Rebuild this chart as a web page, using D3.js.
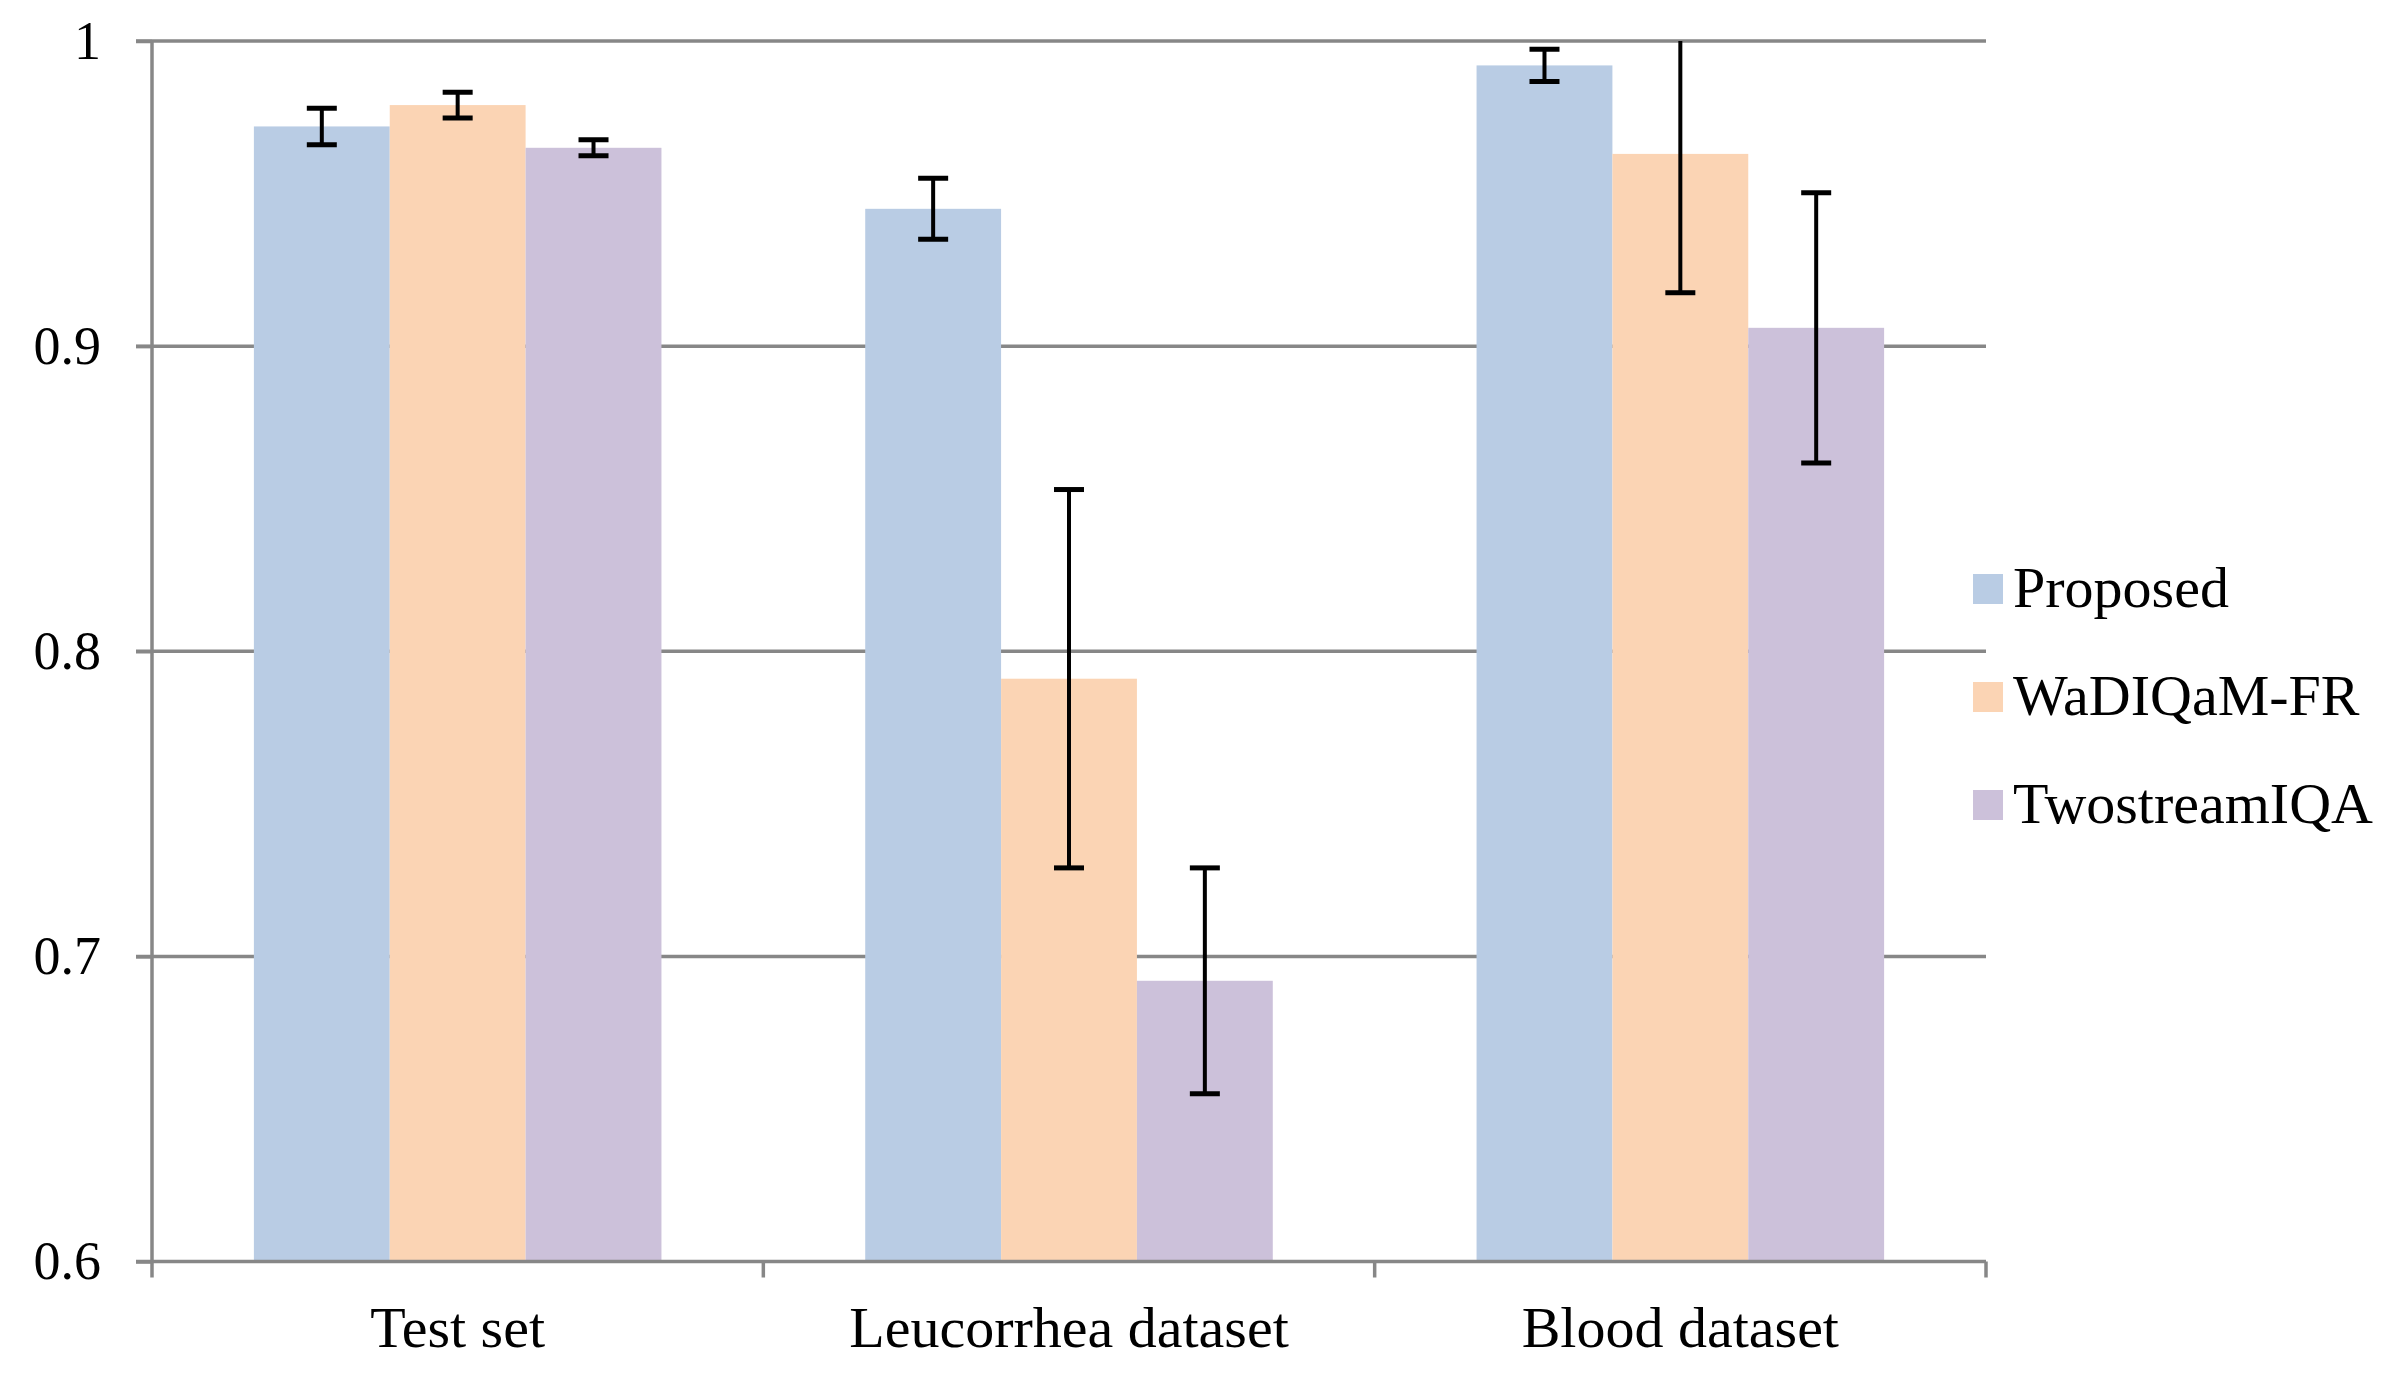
<!DOCTYPE html>
<html>
<head>
<meta charset="utf-8">
<script src="https://cdn.jsdelivr.net/npm/d3@7"></script>
<style>
  html, body { margin: 0; padding: 0; background: #fff; }
  text { font-family: "Liberation Serif", "Times New Roman", serif; fill: #000; }
</style>
</head>
<body>
<svg id="chart" width="2386" height="1385"></svg>
<script>
const categories = ["Test set", "Leucorrhea dataset", "Blood dataset"];
const series = ["Proposed", "WaDIQaM-FR", "TwostreamIQA"];
const colors = ["#b9cce4", "#fbd4b4", "#ccc1da"];

// mean value per category, one array per series
const proposed = [0.972, 0.945, 0.992];
const wadiqam = [0.979, 0.791, 0.963];
const twostream = [0.965, 0.692, 0.906];

// error bar half-widths
const proposedErr = [0.006, 0.010, 0.0053];
const wadiqamErr = [0.0042, 0.062, 0.0455];
const twostreamErr = [0.0026, 0.037, 0.0443];

const yTicks = [0.6, 0.7, 0.8, 0.9, 1.0];

const svg = d3.select("#chart");
const plotLeft = 152, plotRight = 1986, plotTop = 41, plotBottom = 1261.5;
const tickFont = 54, labelFont = 58;
const gridColor = "#878787";

const x = d3.scaleBand().domain(categories).range([plotLeft, plotRight]);
const barW = x.bandwidth() / 4.5;
const xSub = d3.scaleBand().domain(series).range([barW * 0.75, x.bandwidth() - barW * 0.75]);
const y = d3.scaleLinear().domain([0.6, 1]).range([plotBottom, plotTop]);

const values = [proposed, wadiqam, twostream];
const errors = [proposedErr, wadiqamErr, twostreamErr];
const rows = [];
series.forEach((s, si) => {
  categories.forEach((c, ci) => {
    rows.push({ cat: c, series: s, color: colors[si], value: values[si][ci], err: errors[si][ci] });
  });
});

// gridlines
svg.append("g")
  .selectAll("line")
  .data(yTicks.slice(1))
  .join("line")
  .attr("x1", plotLeft - 16)
  .attr("x2", plotRight)
  .attr("y1", d => y(d))
  .attr("y2", d => y(d))
  .attr("stroke", gridColor)
  .attr("stroke-width", 3.5);

// bars
svg.append("g")
  .selectAll("rect")
  .data(rows)
  .join("rect")
  .attr("x", d => x(d.cat) + xSub(d.series))
  .attr("width", xSub.bandwidth())
  .attr("y", d => y(d.value))
  .attr("height", d => plotBottom - y(d.value))
  .attr("fill", d => d.color);

// error bars, clipped to the plot area
svg.append("clipPath").attr("id", "plotClip")
  .append("rect")
  .attr("x", plotLeft).attr("y", plotTop)
  .attr("width", plotRight - plotLeft).attr("height", plotBottom - plotTop);

const capW = 30;
const errG = svg.append("g").attr("clip-path", "url(#plotClip)");
errG.selectAll("g")
  .data(rows)
  .join("g")
  .each(function (d) {
    const g = d3.select(this);
    const cx = x(d.cat) + xSub(d.series) + xSub.bandwidth() / 2;
    const y1 = y(d.value + d.err), y2 = y(d.value - d.err);
    g.append("line")
      .attr("x1", cx).attr("x2", cx)
      .attr("y1", y1).attr("y2", y2)
      .attr("stroke", "#000").attr("stroke-width", 4);
    [y1, y2].forEach(yy => {
      g.append("line")
        .attr("x1", cx - capW / 2).attr("x2", cx + capW / 2)
        .attr("y1", yy).attr("y2", yy)
        .attr("stroke", "#000").attr("stroke-width", 5);
    });
  });

// axes
const yAxis = svg.append("g")
  .attr("transform", `translate(${plotLeft},0)`)
  .call(d3.axisLeft(y).tickValues(yTicks).tickSize(16).tickPadding(35)
    .tickFormat(d => d === 1 ? "1" : d.toFixed(1)));
yAxis.select(".domain").remove();
yAxis.selectAll(".tick line").attr("stroke", gridColor).attr("stroke-width", 3.5);
yAxis.selectAll(".tick text").attr("font-size", tickFont).attr("font-family", "Liberation Serif").attr("fill", "#000");

svg.append("line")
  .attr("x1", plotLeft).attr("x2", plotLeft)
  .attr("y1", plotTop).attr("y2", plotBottom + 16)
  .attr("stroke", gridColor).attr("stroke-width", 3.5);

svg.append("line")
  .attr("x1", plotLeft - 16).attr("x2", plotRight)
  .attr("y1", plotBottom).attr("y2", plotBottom)
  .attr("stroke", gridColor).attr("stroke-width", 3.5);

// category boundary ticks
svg.append("g")
  .selectAll("line")
  .data(categories.slice(1).map(c => x(c)).concat([plotRight]))
  .join("line")
  .attr("x1", d => d).attr("x2", d => d)
  .attr("y1", plotBottom).attr("y2", plotBottom + 16)
  .attr("stroke", gridColor).attr("stroke-width", 3.5);

// category labels
svg.append("g")
  .selectAll("text")
  .data(categories)
  .join("text")
  .attr("x", d => x(d) + x.bandwidth() / 2)
  .attr("y", 1347)
  .attr("text-anchor", "middle")
  .attr("font-size", labelFont)
  .text(d => d);

// legend
const legend = svg.append("g")
  .selectAll("g")
  .data(series)
  .join("g")
  .attr("transform", (d, i) => `translate(1973, ${607 + i * 108})`);
legend.append("rect")
  .attr("x", 0).attr("y", -33)
  .attr("width", 30).attr("height", 30)
  .attr("fill", (d, i) => colors[i]);
legend.append("text")
  .attr("x", 40).attr("y", 0)
  .attr("font-size", labelFont)
  .text(d => d);
</script>
</body>
</html>
